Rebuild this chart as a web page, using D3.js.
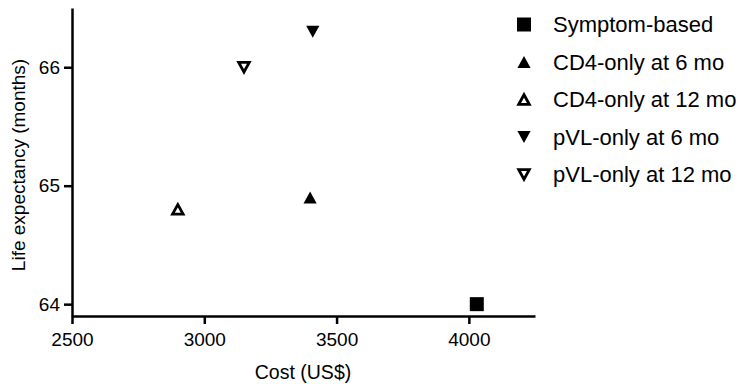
<!DOCTYPE html>
<html>
<head>
<meta charset="utf-8">
<script src="https://cdn.jsdelivr.net/npm/d3@7/dist/d3.min.js"></script>
<style>
  html, body { margin: 0; padding: 0; background: #fff; }
  svg { display: block; font-family: "Liberation Sans", Arial, sans-serif; }
</style>
</head>
<body>
<svg id="chart" width="740" height="384"></svg>
<script>
// Strategies compared: cost (US$) vs life expectancy (months)
const strategies = ["Symptom-based", "CD4-only at 6 mo", "CD4-only at 12 mo", "pVL-only at 6 mo", "pVL-only at 12 mo"];
const costs = [4030, 3400, 2900, 3410, 3150];
const lifeExpectancy = [64.0, 64.9, 64.8, 66.3, 66.0];
const markerShapes = ["square", "up", "up", "down", "down"];
const markerFilled = [true, true, false, true, false];

const xTicks = [2500, 3000, 3500, 4000];
const yTicks = [64, 65, 66];
const xTitle = "Cost (US$)";
const yTitle = "Life expectancy (months)";

const svg = d3.select("#chart");

const x = d3.scaleLinear().domain([2500, 4250]).range([72, 535]);
const y = d3.scaleLinear().domain([63.9, 66.5]).range([316, 8]);

// Marker path generator centred on the origin
function markerPath(shape, filled) {
  if (shape === "square") {
    const h = 7;
    return `M${-h},${-h}H${h}V${h}H${-h}Z`;
  }
  const w = filled ? 6.6 : 5.3;
  const hh = filled ? 6 : 4.8;
  if (shape === "up") return `M0,${-hh}L${w},${hh}L${-w},${hh}Z`;
  return `M0,${hh}L${w},${-hh}L${-w},${-hh}Z`;
}

function drawMarker(sel, i) {
  sel.append("path")
    .attr("d", markerPath(markerShapes[i], markerFilled[i]))
    .attr("fill", markerFilled[i] ? "#000" : "#fff")
    .attr("stroke", markerFilled[i] ? "none" : "#000")
    .attr("stroke-width", markerFilled[i] ? 0 : 2.8)
    .attr("stroke-linejoin", "miter");
}

// Axes
const xAxis = svg.append("g")
  .attr("transform", `translate(0,${y.range()[0]})`)
  .call(d3.axisBottom(x).tickValues(xTicks).tickSize(8).tickPadding(9).tickSizeOuter(0).tickFormat(d3.format("d")));

const yAxis = svg.append("g")
  .attr("transform", `translate(${x.range()[0]},0)`)
  .call(d3.axisLeft(y).tickValues(yTicks).tickSize(8).tickPadding(4).tickSizeOuter(0).tickFormat(d3.format("d")));

[xAxis, yAxis].forEach(g => {
  g.attr("font-family", null).attr("font-size", null);
  g.select(".domain").attr("stroke", "#000").attr("stroke-width", 2.5);
  g.selectAll(".tick line").attr("stroke", "#000").attr("stroke-width", 2.5);
  g.selectAll(".tick text").attr("fill", "#000").style("font-size", "19px");
});

// Axis titles
svg.append("text")
  .attr("x", 303)
  .attr("y", 372)
  .attr("dy", "0.35em")
  .attr("text-anchor", "middle")
  .style("font-size", "19.5px")
  .text(xTitle);

svg.append("text")
  .attr("transform", `translate(18,165) rotate(-90)`)
  .attr("dy", "0.35em")
  .attr("text-anchor", "middle")
  .style("font-size", "19px")
  .text(yTitle);

// Data points
strategies.forEach((s, i) => {
  const g = svg.append("g")
    .attr("transform", `translate(${x(costs[i])},${y(lifeExpectancy[i])})`);
  drawMarker(g, i);
});

// Legend
const legend = svg.append("g");
strategies.forEach((s, i) => {
  const row = legend.append("g").attr("transform", `translate(0,${24.5 + i * 37.5})`);
  const m = row.append("g").attr("transform", "translate(524,0)");
  drawMarker(m, i);
  row.append("text")
    .attr("x", 553)
    .attr("dy", "0.35em")
    .style("font-size", "22px")
    .text(s);
});
</script>
</body>
</html>
